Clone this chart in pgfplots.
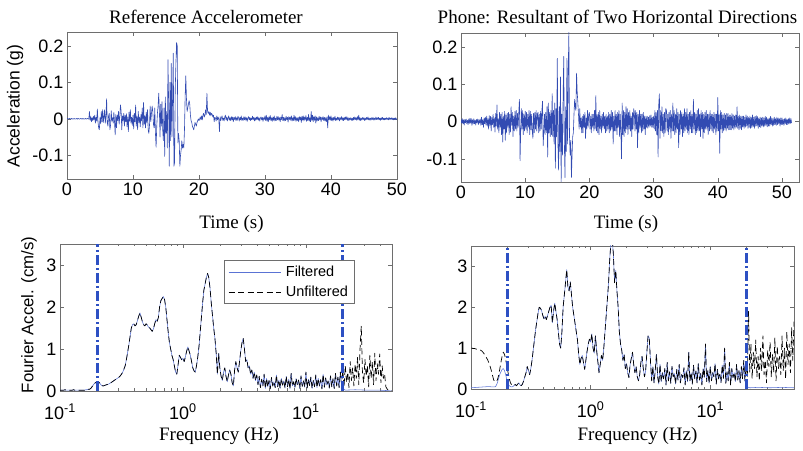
\documentclass[border=0pt]{standalone}
\usepackage{fontspec}
\setmainfont{Liberation Sans}
\newfontfamily\serifont{Liberation Serif}
\usepackage{pgfplots}
\usepackage{pgfplotstable}
\pgfplotsset{compat=1.18}
\definecolor{mblue}{RGB}{50,75,178}
\definecolor{fblue}{RGB}{90,115,212}
\definecolor{dblue}{RGB}{45,80,195}
\definecolor{frame}{RGB}{110,110,110}
\pgfplotsset{
 mstyle/.style={scale only axis, axis line style={frame, line width=0.6pt},
  every tick/.style={frame, line width=0.6pt}, major tick length=4pt, minor tick length=2.5pt,
  tick label style={font=\fontsize{18}{20}\selectfont}, anchor=south west},
 logx/.style={xmin=0, xmax=270, ymin=0, ymax=350, xtick={0,100,200},
  xticklabels={10\textsuperscript{-1},10\textsuperscript{0},10\textsuperscript{1}},
  xticklabel style={inner sep=1pt, yshift=-12pt},
  minor xtick={30.1,47.7,60.2,69.9,77.8,84.5,90.3,95.4,130.1,147.7,160.2,169.9,177.8,184.5,190.3,195.4,230.1,247.7,260.2,269.9},
  ytick={0,100,200,300}, yticklabels={0,1,2,3}},
 filt/.style={fblue, line width=0.55pt, line join=round},
 unfilt/.style={black, line width=0.7pt, dash pattern=on 6pt off 3.5pt, line join=round},
 vline/.style={dblue, line width=3pt, dash pattern=on 10pt off 3pt on 2pt off 3pt, forget plot},
}
\begin{document}
% reference accelerometer, milli-g, dt = 0.1 s
\pgfplotstableread[header=false,row sep=\\]{
0\\1\\-1\\0\\1\\0\\-1\\1\\0\\-1\\
0\\1\\-1\\0\\0\\1\\-1\\1\\0\\-1\\
0\\1\\0\\-1\\1\\0\\-1\\0\\1\\-1\\
0\\1\\0\\-1\\20\\-4\\6\\-8\\3\\-5\\
7\\-3\\10\\-12\\4\\-6\\27\\-9\\-25\\-30\\
3\\-14\\20\\-8\\25\\-10\\5\\25\\-12\\4\\
55\\-10\\-20\\8\\15\\-30\\-18\\22\\-6\\3\\
-12\\18\\-8\\-44\\12\\-25\\10\\-5\\20\\-15\\
6\\38\\22\\-30\\8\\-6\\15\\-20\\10\\-8\\
14\\-22\\5\\-35\\18\\-6\\25\\-12\\4\\-18\\
10\\-28\\15\\-8\\38\\-20\\6\\-30\\20\\-10\\
5\\-22\\12\\-6\\30\\-25\\45\\-15\\8\\-25\\
18\\-10\\25\\-30\\-40\\-18\\35\\-8\\15\\35\\
20\\-15\\-25\\30\\-40\\-78\\-20\\15\\35\\70\\
20\\-50\\40\\-20\\47\\-30\\-60\\30\\-103\\60\\
-40\\20\\-80\\162\\40\\-130\\100\\-60\\152\\-50\\
60\\180\\-130\\-120\\80\\150\\209\\200\\-66\\-40\\
-60\\-130\\-100\\-85\\-60\\-80\\-70\\-80\\-30\\60\\
118\\55\\20\\30\\40\\50\\40\\10\\-5\\-10\\
-20\\-25\\-30\\-20\\-10\\-15\\-20\\-10\\-5\\0\\
-5\\0\\5\\-3\\8\\-3\\10\\15\\5\\10\\
25\\12\\70\\20\\15\\20\\10\\18\\8\\15\\
12\\5\\10\\-8\\4\\2\\-6\\8\\-3\\5\\
-2\\-35\\6\\-5\\3\\8\\-4\\2\\-6\\5\\
10\\-3\\5\\-6\\2\\8\\-4\\3\\-5\\6\\
-3\\5\\-8\\4\\-2\\6\\-5\\3\\-4\\7\\
2\\-6\\4\\-3\\8\\-5\\2\\-4\\6\\-3\\
5\\-4\\3\\-7\\2\\6\\-3\\4\\-5\\2\\
-3\\7\\-2\\4\\-6\\3\\-4\\5\\-2\\6\\
-4\\3\\-6\\2\\5\\-3\\4\\-7\\3\\-2\\
8\\-5\\10\\-6\\4\\-8\\6\\-3\\9\\-5\\
3\\-7\\5\\-4\\8\\-6\\2\\-5\\7\\-3\\
6\\-4\\3\\-8\\5\\-2\\12\\-5\\4\\-6\\
3\\-5\\7\\-3\\4\\-9\\6\\-2\\5\\-4\\
8\\-6\\3\\-5\\10\\-4\\6\\-7\\3\\-5\\
4\\-8\\6\\-3\\5\\-10\\7\\-4\\8\\-6\\
5\\-3\\9\\-7\\4\\-5\\12\\-6\\3\\-8\\
20\\-5\\10\\-8\\6\\-4\\8\\-12\\5\\-6\\
3\\-5\\7\\-3\\5\\-8\\4\\-2\\6\\-5\\
4\\-6\\3\\-8\\5\\-25\\10\\-3\\6\\-4\\
8\\-5\\3\\-6\\4\\-3\\7\\-5\\2\\-4\\
5\\-3\\4\\-6\\3\\-2\\6\\-4\\3\\-5\\
4\\-3\\5\\-2\\6\\-4\\3\\-5\\2\\-3\\
3\\-4\\2\\-5\\4\\-3\\5\\-2\\3\\-4\\
6\\-3\\10\\-4\\3\\-5\\2\\-3\\4\\-2\\
3\\-5\\2\\-3\\4\\-2\\5\\-3\\2\\-4\\
2\\-3\\4\\-2\\3\\-4\\2\\-3\\5\\-2\\
3\\-2\\4\\-3\\2\\-4\\3\\-2\\4\\-3\\
2\\-3\\2\\-2\\3\\-2\\2\\-3\\4\\-2\\
2\\-2\\3\\-2\\2\\-3\\2\\-2\\3\\-2\\
0\\
}\refacc
% phone resultant, milli-g, dt = 0.1 s
\pgfplotstableread[header=false,row sep=\\]{
6\\-4\\8\\-6\\5\\-9\\6\\-3\\7\\-5\\
4\\-8\\7\\-5\\9\\-4\\8\\-10\\5\\-6\\
8\\-6\\4\\-9\\6\\-3\\7\\-8\\5\\-4\\
7\\-10\\12\\-8\\5\\-15\\10\\-6\\12\\-9\\
15\\-12\\8\\-20\\16\\-10\\14\\-25\\12\\-8\\
20\\-15\\10\\-28\\22\\-12\\45\\-20\\8\\-30\\
25\\-15\\20\\-35\\25\\-55\\15\\-20\\28\\-50\\
18\\-30\\22\\-15\\25\\-35\\20\\-28\\40\\-10\\
25\\-40\\15\\-25\\28\\-20\\30\\-25\\22\\-15\\
25\\60\\-105\\-25\\35\\-20\\30\\-35\\20\\-25\\
28\\-20\\25\\-30\\20\\-15\\30\\-35\\28\\-22\\
20\\-25\\-45\\22\\-30\\25\\-20\\30\\-25\\20\\
25\\-30\\20\\-25\\28\\-20\\30\\55\\-65\\-25\\
20\\-35\\25\\-30\\40\\-95\\50\\-30\\25\\-40\\
30\\-35\\75\\-40\\30\\-60\\50\\-125\\35\\-40\\
170\\-60\\-130\\40\\-80\\120\\-165\\20\\-90\\60\\
175\\-60\\-150\\40\\-80\\170\\-60\\130\\240\\-40\\
-90\\-50\\-150\\-90\\-40\\-30\\20\\60\\40\\30\\
130\\80\\50\\20\\-20\\35\\-15\\10\\-30\\15\\
-30\\20\\-15\\25\\-45\\10\\-20\\30\\-15\\20\\
25\\-20\\15\\-30\\20\\-15\\20\\-25\\30\\-20\\
70\\-25\\20\\-30\\25\\-35\\30\\-20\\15\\-30\\
20\\-15\\25\\-20\\15\\-30\\20\\-25\\15\\-20\\
25\\-30\\20\\-25\\30\\-20\\25\\-60\\15\\-25\\
30\\-25\\20\\-35\\25\\-15\\30\\-40\\20\\-25\\
-100\\50\\-35\\30\\-40\\25\\-30\\40\\-20\\35\\
-35\\25\\-20\\30\\-25\\15\\-40\\25\\-20\\35\\
25\\-25\\30\\-20\\25\\-70\\20\\-30\\30\\-15\\
20\\-30\\20\\-25\\25\\-20\\15\\-35\\15\\-15\\
15\\-18\\12\\-15\\16\\-12\\18\\-15\\12\\-16\\
15\\-20\\30\\-25\\25\\-35\\30\\-95\\45\\75\\
-45\\30\\-25\\40\\-30\\20\\-40\\25\\-30\\35\\
30\\-25\\20\\-35\\25\\-20\\30\\-45\\20\\-25\\
50\\-25\\30\\-35\\20\\-30\\35\\-20\\25\\-70\\
20\\-35\\30\\-20\\25\\-40\\20\\-30\\35\\-25\\
25\\-20\\35\\-30\\20\\-35\\25\\-20\\30\\-30\\
20\\-30\\60\\-20\\25\\-35\\20\\-30\\30\\-25\\
35\\-25\\20\\-40\\30\\-20\\25\\-45\\20\\-30\\
25\\-20\\30\\-20\\20\\-35\\20\\-25\\30\\-20\\
20\\-25\\20\\-30\\25\\-20\\20\\-35\\20\\-25\\
65\\-25\\20\\-85\\30\\-20\\25\\-30\\18\\-25\\
22\\-22\\18\\-25\\22\\-18\\22\\-22\\18\\-22\\
18\\-22\\22\\-18\\18\\-22\\15\\-18\\18\\-15\\
40\\-18\\15\\-22\\18\\-18\\15\\-22\\15\\-15\\
15\\-18\\12\\-15\\18\\-12\\15\\-18\\12\\-15\\
15\\-18\\12\\-16\\18\\-14\\12\\-18\\14\\-12\\
16\\-12\\14\\-18\\10\\-14\\12\\-16\\10\\-12\\
12\\-14\\10\\-12\\14\\-10\\12\\-14\\8\\-12\\
10\\-12\\14\\-8\\10\\-12\\8\\-10\\12\\-8\\
8\\-10\\12\\-8\\10\\-6\\8\\-12\\10\\-8\\
10\\-8\\6\\-10\\8\\-6\\10\\-8\\6\\-8\\
8\\-6\\10\\-5\\8\\-4\\
}\phone
% reference Fourier spectrum (unfiltered), 0.01 cm/s, 100 points per decade from 0.1 Hz
\pgfplotstableread[header=false,row sep=\\]{
2\\2\\2\\2\\3\\2\\2\\2\\2\\2\\
2\\3\\2\\2\\2\\2\\2\\2\\2\\2\\
2\\3\\3\\4\\4\\6\\10\\14\\18\\20\\
22\\22\\20\\16\\13\\12\\13\\14\\15\\16\\
17\\19\\21\\23\\25\\27\\29\\31\\33\\36\\
40\\45\\52\\60\\75\\92\\110\\130\\150\\158\\
160\\155\\158\\168\\178\\186\\176\\165\\158\\155\\
160\\157\\152\\150\\146\\142\\148\\160\\170\\166\\
175\\200\\215\\220\\225\\218\\200\\170\\140\\115\\
100\\85\\75\\60\\45\\40\\62\\85\\80\\74\\
78\\70\\82\\95\\105\\95\\85\\70\\55\\48\\
45\\60\\80\\105\\140\\175\\210\\240\\255\\270\\
280\\270\\245\\210\\180\\150\\125\\90\\40\\90\\
55\\35\\25\\45\\55\\35\\22\\38\\50\\40\\
20\\12\\50\\70\\55\\45\\70\\95\\115\\125\\
100\\70\\75\\55\\60\\40\\50\\30\\45\\25\\
38\\15\\35\\8\\28\\12\\40\\6\\30\\10\\
25\\5\\32\\12\\22\\8\\38\\10\\26\\6\\
30\\14\\24\\7\\35\\10\\28\\5\\42\\12\\
22\\8\\30\\15\\26\\6\\36\\11\\24\\9\\
45\\7\\28\\13\\33\\6\\25\\10\\38\\8\\
30\\12\\27\\5\\40\\9\\31\\14\\24\\7\\
36\\10\\29\\6\\42\\12\\33\\8\\45\\15\\
50\\10\\60\\20\\45\\8\\70\\25\\55\\12\\
65\\30\\80\\15\\100\\155\\40\\20\\75\\35\\
60\\10\\85\\30\\70\\15\\90\\25\\65\\40\\
88\\20\\60\\30\\40\\10\\5\\2\\1\\0\\
0\\
}\refspec
% phone Fourier spectrum (unfiltered)
\pgfplotstableread[header=false,row sep=\\]{
100\\100\\99\\99\\98\\97\\97\\96\\95\\93\\
90\\86\\81\\76\\71\\63\\55\\45\\33\\22\\
18\\18\\22\\32\\48\\65\\80\\90\\85\\72\\
55\\40\\25\\15\\10\\8\\9\\11\\8\\12\\
15\\10\\8\\12\\20\\30\\40\\55\\45\\35\\
50\\70\\95\\120\\145\\165\\185\\200\\198\\192\\
180\\172\\178\\170\\180\\190\\200\\205\\162\\190\\
210\\190\\170\\140\\110\\100\\140\\200\\230\\260\\
292\\250\\240\\262\\230\\200\\180\\160\\140\\120\\
85\\60\\75\\82\\65\\48\\70\\92\\110\\122\\
115\\135\\100\\88\\130\\95\\68\\40\\60\\82\\
70\\100\\140\\180\\220\\260\\320\\360\\370\\330\\
260\\290\\240\\200\\140\\110\\95\\70\\85\\50\\
62\\40\\28\\60\\75\\90\\60\\40\\55\\30\\
20\\35\\65\\80\\50\\30\\45\\90\\130\\125\\
70\\20\\55\\15\\45\\85\\30\\12\\60\\18\\
40\\25\\50\\10\\65\\20\\42\\14\\55\\30\\
38\\12\\48\\22\\60\\15\\35\\28\\52\\10\\
45\\18\\90\\20\\40\\12\\58\\25\\44\\15\\
62\\22\\38\\10\\50\\28\\110\\18\\45\\14\\
55\\20\\40\\30\\62\\12\\48\\24\\36\\16\\
58\\26\\100\\14\\42\\20\\65\\10\\50\\28\\
40\\18\\60\\22\\45\\15\\55\\25\\70\\20\\
60\\30\\190\\40\\110\\25\\90\\50\\120\\30\\
80\\20\\100\\45\\130\\35\\70\\15\\95\\55\\
115\\30\\85\\40\\125\\20\\105\\50\\80\\35\\
130\\45\\100\\25\\140\\60\\110\\40\\150\\70\\
165\\
}\phonespec
\begin{tikzpicture}
\useasboundingbox (0pt,0pt) rectangle (803pt,450pt);
% top left
\begin{axis}[mstyle, at={(67pt,271pt)}, width=330pt, height=147pt,
  xmin=0, xmax=500, ymin=-165, ymax=238,
  xtick={0,100,200,300,400,500}, xticklabels={0,10,20,30,40,50},
  ytick={-100,0,100,200}, yticklabels={-0.1,0,0.1,0.2}]
\addplot[mblue, line width=0.6pt, line join=round] table[x expr=\coordindex, y index=0] {\refacc};
\end{axis}
% top right
\begin{axis}[mstyle, at={(461pt,268pt)}, width=338pt, height=149pt,
  xmin=0, xmax=526.5, ymin=-162, ymax=238,
  xtick={0,100,200,300,400,500}, xticklabels={0,10,20,30,40,50},
  ytick={-100,0,100,200}, yticklabels={-0.1,0,0.1,0.2}]
\addplot[mblue, line width=0.6pt, line join=round] table[x expr=\coordindex, y index=0] {\phone};
\end{axis}
% bottom left
\begin{axis}[mstyle, logx, at={(60pt,59pt)}, width=332pt, height=147pt,
  legend style={at={(0.886,0.89)}, anchor=north east, draw=frame, fill=white,
    font=\fontsize{14.5}{16}\selectfont, cells={anchor=west}, inner xsep=4pt, inner ysep=3.5pt, row sep=4pt,
    /tikz/every odd column/.append style={column sep=3pt}},
  legend image code/.code={\draw[#1] (0pt,0pt) -- (52pt,0pt);}]
\addplot[filt, restrict x to domain=0:229] table[x expr=\coordindex, y index=0] {\refspec};
\addlegendentry{Filtered}
\addplot[filt, forget plot] coordinates {(229,15) (230,8) (231,4) (232,2) (240,3) (250,2) (260,2) (266,1) (270,0)};
\addplot[unfilt] table[x expr=\coordindex, y index=0] {\refspec};
\addlegendentry{Unfiltered}
\addplot[vline] coordinates {(30.1,0) (30.1,350)};
\addplot[vline] coordinates {(230.1,0) (230.1,350)};
\end{axis}
% bottom right
\begin{axis}[mstyle, logx, at={(471pt,61pt)}, width=323pt, height=143pt]
\addplot[filt, forget plot] coordinates {(0,3) (5,4) (10,5) (15,6) (18,5) (20,5) (21,8) (22,15) (23,25) (24,35) (25,42) (26,48) (27,50) (28,45) (29,35) (30,22) (31,12) (32,8) (33,6) (34,5) (35,6) (36,9)};
\addplot[filt, restrict x to domain=36:229] table[x expr=\coordindex, y index=0] {\phonespec};
\addplot[filt, forget plot] coordinates {(229,20) (230,10) (231,5) (233,3) (240,4) (250,3) (260,4) (270,3)};
\addplot[unfilt] table[x expr=\coordindex, y index=0] {\phonespec};
\addplot[vline] coordinates {(30.1,0) (30.1,350)};
\addplot[vline] coordinates {(230.1,0) (230.1,350)};
\end{axis}
% titles and labels
\node[font=\serifont\fontsize{19}{22}\selectfont, anchor=base] at (206pt,426pt) {Reference Accelerometer};
\node[font=\serifont\fontsize{19}{22}\selectfont, anchor=base] at (617.5pt,426pt) {Phone: Resultant of Two Horizontal Directions};
\node[font=\serifont\fontsize{19}{22}\selectfont, anchor=base] at (231.5pt,221.5pt) {Time (s)};
\node[font=\serifont\fontsize{19}{22}\selectfont, anchor=base] at (626pt,221.5pt) {Time (s)};
\node[font=\serifont\fontsize{19}{22}\selectfont, anchor=base] at (219pt,9.5pt) {Frequency (Hz)};
\node[font=\serifont\fontsize{19}{22}\selectfont, anchor=base] at (637.5pt,10pt) {Frequency (Hz)};
\node[font=\fontsize{17.5}{20}\selectfont, rotate=90] at (15pt,344pt) {Acceleration (g)};
\node[font=\fontsize{16.8}{20}\selectfont, rotate=90] at (29pt,135pt) {Fourier Accel. (cm/s)};
\end{tikzpicture}
\end{document}
